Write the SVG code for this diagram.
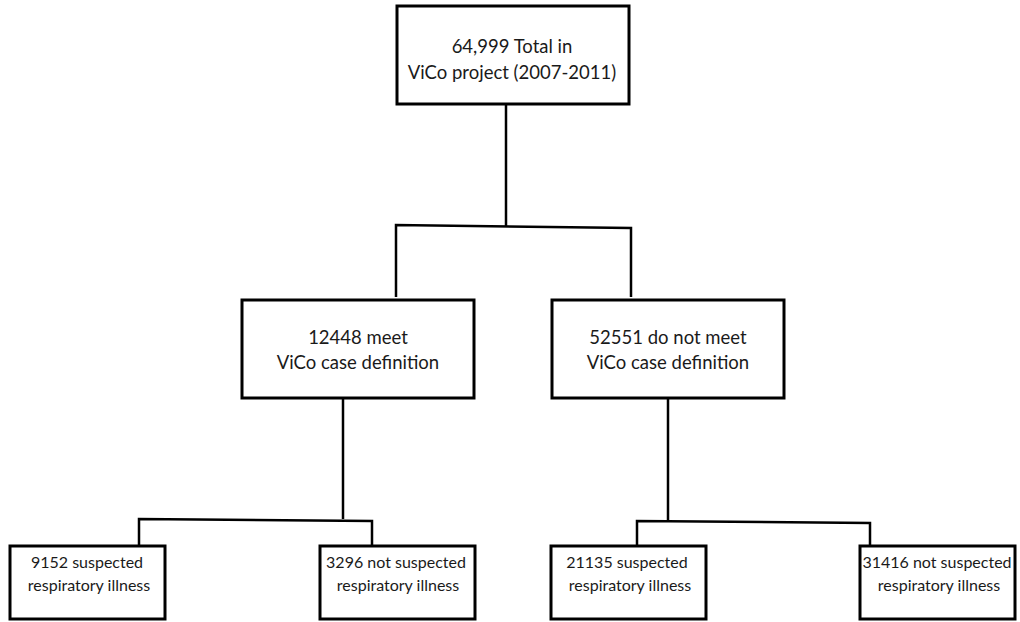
<svg xmlns="http://www.w3.org/2000/svg" width="1020" height="622" viewBox="0 0 1020 622">
<style>
.box{fill:#fff;stroke:#000;stroke-width:3}
.con{fill:none;stroke:#000;stroke-width:2.5;stroke-linejoin:miter}
.t{font-family:Lato,"Open Sans","Liberation Sans",sans-serif;fill:#1a1a1a;text-anchor:middle}
.big{font-size:18.5px}
.small{font-size:16px}
</style>
<rect width="1020" height="622" fill="#fff"/>
<g id="connectors">
<path class="con" d="M506 105 V227"/>
<path class="con" d="M396 297 V225 L631 228 V297"/>
<path class="con" d="M343 398 V519"/>
<path class="con" d="M139 546 V519 L372 521 V546"/>
<path class="con" d="M668 398 V521"/>
<path class="con" d="M637 546 V521 L870 523 V546"/>
</g>
<g id="n_total">
<rect class="box" x="397" y="6" width="232" height="98"/>
<text class="t big" x="512" y="53">64,999 Total in</text>
<text class="t big" x="512" y="79">ViCo project (2007-2011)</text>
</g>
<g id="n_meet">
<rect class="box" x="242" y="300" width="232" height="98"/>
<text class="t big" x="358" y="344">12448 meet</text>
<text class="t big" x="358" y="369">ViCo case definition</text>
</g>
<g id="n_notmeet">
<rect class="box" x="552" y="300" width="232" height="98"/>
<text class="t big" x="668" y="344">52551 do not meet</text>
<text class="t big" x="668" y="369">ViCo case definition</text>
</g>
<g id="n_9152">
<rect class="box" x="10" y="546" width="155" height="73"/>
<text class="t small" x="87" y="568">9152 suspected</text>
<text class="t small" x="89" y="591">respiratory illness</text>
</g>
<g id="n_3296">
<rect class="box" x="320" y="546" width="155" height="73"/>
<text class="t small" x="396" y="568">3296 not suspected</text>
<text class="t small" x="398" y="591">respiratory illness</text>
</g>
<g id="n_21135">
<rect class="box" x="551" y="546" width="155" height="73"/>
<text class="t small" x="627" y="568">21135 suspected</text>
<text class="t small" x="630" y="591">respiratory illness</text>
</g>
<g id="n_31416">
<rect class="box" x="860" y="546" width="155" height="73"/>
<text class="t small" x="937" y="568">31416 not suspected</text>
<text class="t small" x="939" y="591">respiratory illness</text>
</g>
</svg>
